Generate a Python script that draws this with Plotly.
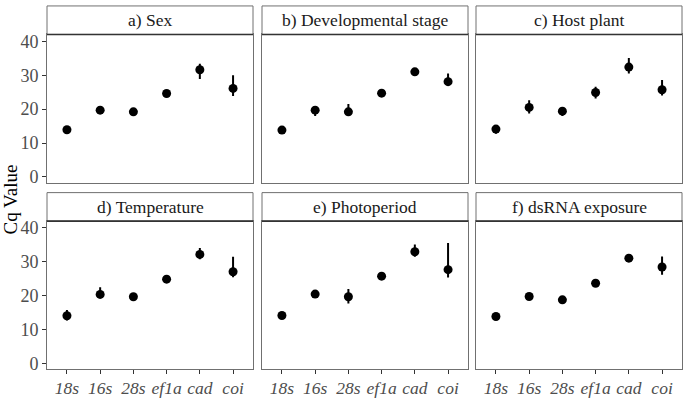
import plotly.graph_objects as go

genes = ["18s", "16s", "28s", "ef1a", "cad", "coi"]
panel_titles = ["a) Sex", "b) Developmental stage", "c) Host plant",
                "d) Temperature", "e) Photoperiod", "f) dsRNA exposure"]
y_ticks = [0, 10, 20, 30, 40]

sex_mean = [13.9, 19.7, 19.2, 24.6, 31.6, 26.1]
sex_hi = [14.5, 20.6, 19.8, 25.0, 33.4, 30.0]
sex_lo = [13.3, 19.0, 18.6, 24.1, 28.9, 23.9]

dev_mean = [13.8, 19.7, 19.2, 24.7, 31.0, 28.1]
dev_hi = [14.3, 20.5, 21.5, 25.1, 31.5, 30.5]
dev_lo = [13.3, 18.0, 18.0, 24.2, 30.5, 27.2]

host_mean = [14.1, 20.5, 19.4, 24.9, 32.4, 25.7]
host_hi = [14.8, 22.6, 20.6, 26.6, 35.1, 28.6]
host_lo = [12.7, 18.7, 18.0, 23.1, 30.5, 24.0]

temp_mean = [14.1, 20.4, 19.7, 24.9, 32.2, 27.1]
temp_hi = [15.8, 22.5, 20.2, 25.3, 34.1, 31.5]
temp_lo = [12.7, 19.4, 19.2, 24.5, 30.8, 25.5]

photo_mean = [14.2, 20.5, 19.7, 25.8, 33.0, 27.7]
photo_hi = [14.6, 21.4, 22.0, 26.2, 35.1, 35.6]
photo_lo = [13.8, 19.5, 17.7, 25.4, 31.5, 25.4]

ds_mean = [13.9, 19.8, 18.8, 23.7, 31.1, 28.5]
ds_hi = [14.3, 20.2, 19.2, 24.1, 31.5, 31.6]
ds_lo = [13.5, 19.4, 18.4, 23.3, 30.7, 26.2]

panels = [(sex_mean, sex_hi, sex_lo), (dev_mean, dev_hi, dev_lo),
          (host_mean, host_hi, host_lo), (temp_mean, temp_hi, temp_lo),
          (photo_mean, photo_hi, photo_lo), (ds_mean, ds_hi, ds_lo)]

W, H = 685, 400
x_px = [(47, 253), (262, 468), (476, 682)]
rows_px = [(32, 183, 3), (222, 373, 193)]  # plot top, plot bottom, strip top

FONT = "Liberation Serif"
BORDER = "#707070"

fig = go.Figure()
layout = dict(width=W, height=H, margin=dict(l=0, r=0, t=0, b=0),
              paper_bgcolor="white", plot_bgcolor="white", showlegend=False,
              font=dict(family=FONT, color="#4D4D4D"))
shapes = []
annotations = []

for i, (m, hi, lo) in enumerate(panels):
    r, c = divmod(i, 3)
    n = i + 1
    xa = "x" if n == 1 else f"x{n}"
    ya = "y" if n == 1 else f"y{n}"
    fig.add_trace(go.Scatter(
        x=genes, y=m, mode="markers", xaxis=xa, yaxis=ya,
        marker=dict(color="black", size=9),
        error_y=dict(type="data", symmetric=False,
                     array=[h - v for h, v in zip(hi, m)],
                     arrayminus=[v - l for v, l in zip(m, lo)],
                     width=0, thickness=2, color="black"),
        hoverinfo="x+y"))
    x0, x1 = x_px[c]
    pt, pb, st = rows_px[r]
    xd = [x0 / W, x1 / W]
    yd = [(H - pb) / H, (H - pt) / H]
    xkey = "xaxis" if n == 1 else f"xaxis{n}"
    ykey = "yaxis" if n == 1 else f"yaxis{n}"
    layout[xkey] = dict(domain=xd, anchor=ya, type="category",
                        categoryorder="array", categoryarray=genes,
                        range=[-0.6, 5.6], showgrid=False, zeroline=False,
                        showline=True, mirror=True, linecolor=BORDER, linewidth=1,
                        ticks="outside" if r == 1 else "", ticklen=4,
                        tickcolor="#333333", showticklabels=(r == 1),
                        ticklabelstandoff=-1,
                        tickfont=dict(family=FONT, size=17.5, color="#4D4D4D",
                                      style="italic"),
                        fixedrange=True)
    layout[ykey] = dict(domain=yd, anchor=xa, range=[-1.74, 42.03],
                        tickvals=y_ticks, showgrid=False, zeroline=False,
                        showline=True, mirror=True, linecolor=BORDER, linewidth=1,
                        ticks="outside" if c == 0 else "", ticklen=4,
                        tickcolor="#333333", showticklabels=(c == 0),
                        tickfont=dict(family=FONT, size=18, color="#4D4D4D"),
                        fixedrange=True)
    # strip
    shapes.append(dict(type="rect", xref="paper", yref="paper",
                       x0=x0 / W, x1=x1 / W, y0=(H - pt) / H, y1=(H - st) / H,
                       line=dict(color=BORDER, width=1), fillcolor="white"))
    shapes.append(dict(type="line", xref="paper", yref="paper",
                       x0=x0 / W, x1=x1 / W, y0=(H - pt) / H, y1=(H - pt) / H,
                       line=dict(color="#333333", width=1.6)))
    annotations.append(dict(text=panel_titles[i], xref="paper", yref="paper",
                            x=(x0 + x1) / 2 / W, y=(H - (pt + st) / 2) / H,
                            xanchor="center", yanchor="middle", showarrow=False,
                            font=dict(family=FONT, size=17.5, color="#1A1A1A")))

annotations.append(dict(text="Cq Value", xref="paper", yref="paper",
                        x=10 / W, y=0.5, textangle=-90, showarrow=False,
                        xanchor="center", yanchor="middle",
                        font=dict(family=FONT, size=19, color="black")))

layout["shapes"] = shapes
layout["annotations"] = annotations
fig.update_layout(**layout)
fig.write_html("out.html",
               config={"displayModeBar": False},
               post_script="document.body.style.margin='0';"
                           "document.body.style.padding='0';"
                           "document.body.style.overflow='hidden';")
